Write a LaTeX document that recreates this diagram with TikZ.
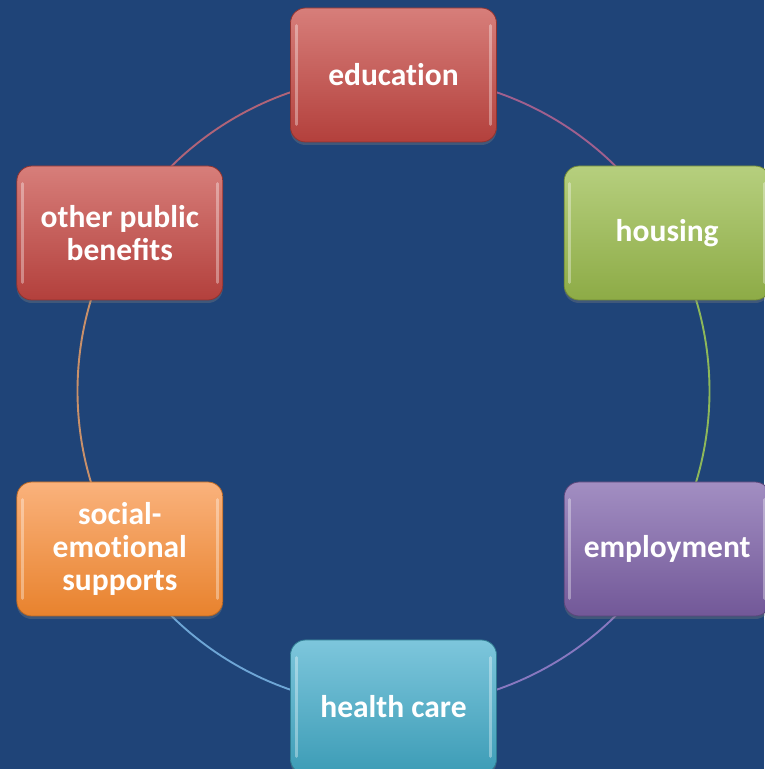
\documentclass[tikz,border=0pt]{standalone}
\usepackage{fontspec}
\setmainfont{Carlito}
\usetikzlibrary{shadows}
\definecolor{bg}{HTML}{1F4478}
\definecolor{redT}{HTML}{D77E7A}
\definecolor{redB}{HTML}{B3403C}
\definecolor{grnT}{HTML}{B6CF7E}
\definecolor{grnB}{HTML}{8DAB46}
\definecolor{purT}{HTML}{A28EC2}
\definecolor{purB}{HTML}{725898}
\definecolor{aquT}{HTML}{7DC6DC}
\definecolor{aquB}{HTML}{3C9CB6}
\definecolor{orgT}{HTML}{FAB27C}
\definecolor{orgB}{HTML}{E8822D}
\definecolor{arcA}{HTML}{A0608E}
\definecolor{arcB}{HTML}{8DB85A}
\definecolor{arcC}{HTML}{8878C0}
\definecolor{arcD}{HTML}{6EA6D6}
\definecolor{arcE}{HTML}{C8906A}
\definecolor{arcF}{HTML}{B06478}
\newcommand{\nolig}{\kern0pt}
\tikzset{
  box/.style 2 args={minimum width=206pt, minimum height=134pt, rounded corners=15pt,
    align=center, text=white, inner sep=0pt,
    font=\bfseries\fontsize{31.5}{33}\selectfont,
    top color=#1, bottom color=#2, draw=#2!80!black, line width=0.8pt,
    drop shadow={opacity=0.35, shadow xshift=0pt, shadow yshift=-3pt}},
  ring/.style={line width=1.9pt},
  gloss/.style={white, opacity=0.35, line width=3pt, line cap=round}
}
\begin{document}
\begin{tikzpicture}[x=1pt,y=1pt]
\fill[bg] (0,0) rectangle (764,769);
\useasboundingbox (0,0) rectangle (764,769);
\coordinate (ctr) at (393.5,378);
\path (ctr) ++(90:316) coordinate (pEdu)
      (ctr) ++(30:316) coordinate (pHous)
      (ctr) ++(-30:316) coordinate (pEmp)
      (ctr) ++(-90:316) coordinate (pHc)
      (ctr) ++(210:316) coordinate (pSoc)
      (ctr) ++(150:316) coordinate (pOth);
\draw[ring, arcA] (pEdu) arc[start angle=90, end angle=30, radius=316];
\draw[ring, arcB] (pHous) arc[start angle=30, end angle=-30, radius=316];
\draw[ring, arcC] (pEmp) arc[start angle=-30, end angle=-90, radius=316];
\draw[ring, arcD] (pHc) arc[start angle=-90, end angle=-150, radius=316];
\draw[ring, arcE] (pSoc) arc[start angle=210, end angle=150, radius=316];
\draw[ring, arcF] (pOth) arc[start angle=150, end angle=90, radius=316];
\node[box={redT}{redB}] (edu) at (pEdu) {educat\nolig ion};
\node[box={grnT}{grnB}] (hous) at (pHous) {housing};
\node[box={purT}{purB}] (emp) at (pEmp) {employment};
\node[box={aquT}{aquB}] (hc) at (pHc) {health care};
\node[box={orgT}{orgB}] (soc) at (pSoc) {social-\\emot\nolig ional\\supports};
\node[box={redT}{redB}] (oth) at (pOth) {other public\\benefits};
\foreach \n in {edu,hous,emp,hc,soc,oth}{
  \draw[gloss] ([xshift=6pt,yshift=-18pt]\n.north west) -- ([xshift=6pt,yshift=18pt]\n.south west);
  \draw[gloss] ([xshift=-6pt,yshift=-18pt]\n.north east) -- ([xshift=-6pt,yshift=18pt]\n.south east);
}
\end{tikzpicture}
\end{document}
